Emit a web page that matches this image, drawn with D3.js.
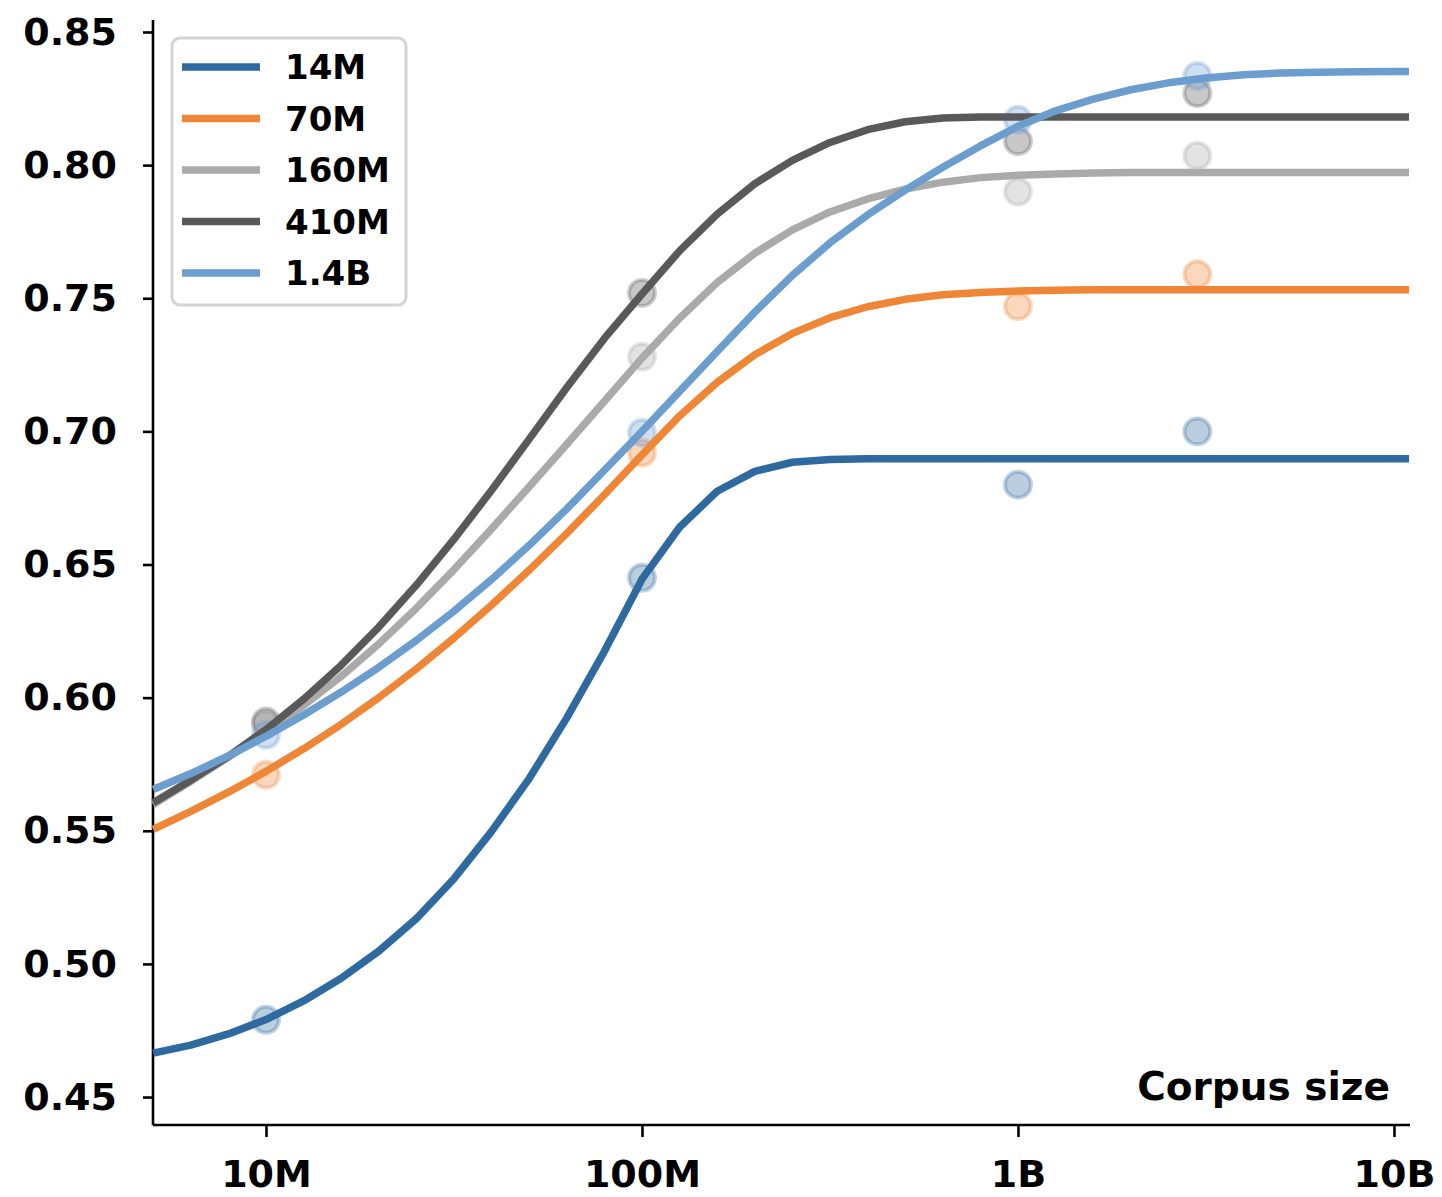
<!DOCTYPE html>
<html>
<head>
<meta charset="utf-8">
<script src="https://cdn.jsdelivr.net/npm/d3@7"></script>
<style>
  body { margin: 0; background: #fff; }
  text { font-family: "DejaVu Sans", sans-serif; font-weight: bold; fill: #000; }
</style>
</head>
<body>
<div id="vis"></div>
<script>
const margin = { top: 20, right: 32, bottom: 72, left: 153 };
const width = 1442 - margin.left - margin.right;
const height = 1197 - margin.top - margin.bottom;

// model names + colours (legend order)
const models = ['14M', '70M', '160M', '410M', '1.4B']
const colors = ['#2e6a9f', '#ef8636', '#aaaaaa', '#595959', '#6b9dcf']

// log10(corpus size) where the fitted curves were read
const curveLogSize = [6.7, 6.8, 6.9, 7.0, 7.1, 7.2, 7.3, 7.4, 7.5, 7.6, 7.7, 7.8, 7.9, 8.0, 8.1, 8.2, 8.3, 8.4,
    8.5, 8.6, 8.7, 8.8, 8.9, 9.0, 9.1, 9.2, 9.3, 9.4, 9.5, 9.6, 9.7, 9.8, 9.9, 10.0, 10.04]

const curve14M = [0.4665, 0.4695, 0.4737, 0.4791, 0.4861, 0.4946, 0.5048, 0.5170, 0.5320, 0.5498, 0.5696, 0.5924,
    0.6174, 0.6445, 0.6640, 0.6775, 0.6850, 0.6884, 0.6894, 0.6897, 0.6897, 0.6897, 0.6897, 0.6897, 0.6897,
    0.6897, 0.6897, 0.6897, 0.6897, 0.6897, 0.6897, 0.6897, 0.6897, 0.6897, 0.6897]
const curve70M = [0.5505, 0.5573, 0.5645, 0.5723, 0.5808, 0.5900, 0.6000, 0.6108, 0.6224, 0.6348, 0.6479, 0.6617,
    0.6762, 0.6912, 0.7058, 0.7184, 0.7288, 0.7368, 0.7427, 0.7468, 0.7496, 0.7513, 0.7522, 0.7527, 0.7530,
    0.7532, 0.7532, 0.7532, 0.7532, 0.7532, 0.7532, 0.7532, 0.7532, 0.7532, 0.7532]
const curve160M = [0.5598, 0.5686, 0.5776, 0.5870, 0.5970, 0.6080, 0.6202, 0.6336, 0.6481, 0.6634, 0.6792, 0.6952,
    0.7113, 0.7275, 0.7425, 0.7559, 0.7669, 0.7757, 0.7824, 0.7873, 0.7910, 0.7936, 0.7953, 0.7962, 0.7967,
    0.7970, 0.7972, 0.7972, 0.7972, 0.7972, 0.7972, 0.7972, 0.7972, 0.7972, 0.7972]
const curve410M = [0.5605, 0.5690, 0.5780, 0.5880, 0.5994, 0.6122, 0.6265, 0.6423, 0.6595, 0.6779, 0.6971, 0.7165,
    0.7349, 0.7516, 0.7678, 0.7816, 0.7930, 0.8018, 0.8085, 0.8133, 0.8163, 0.8177, 0.8181, 0.8181, 0.8181,
    0.8181, 0.8181, 0.8181, 0.8181, 0.8181, 0.8181, 0.8181, 0.8181, 0.8181, 0.8181]
const curve1_4B = [0.5655, 0.5715, 0.5781, 0.5855, 0.5935, 0.6021, 0.6114, 0.6215, 0.6325, 0.6444, 0.6572, 0.6709,
    0.6854, 0.7000, 0.7150, 0.7300, 0.7448, 0.7586, 0.7708, 0.7813, 0.7906, 0.7992, 0.8072, 0.8146, 0.8204,
    0.8248, 0.8283, 0.8309, 0.8327, 0.8339, 0.8346, 0.8349, 0.8351, 0.8352, 0.8352]

// measured points
const pointSizes = [1e7, 1e8, 1e9, 3e9]
const points14M = [0.479, 0.645, 0.680, 0.700]
const points70M = [0.571, 0.692, 0.747, 0.759]
const points160M = [0.590, 0.728, 0.790, 0.8035]
const points410M = [0.591, 0.752, 0.809, 0.827]
const points1_4B = [0.586, 0.6995, 0.817, 0.8335]

const xTicks = [1e7, 1e8, 1e9, 1e10]
const xTickLabels = ['10M', '100M', '1B', '10B']
const yTicks = [0.45, 0.50, 0.55, 0.60, 0.65, 0.70, 0.75, 0.80, 0.85]

const curves = [curve14M, curve70M, curve160M, curve410M, curve1_4B]
const pointSets = [points14M, points70M, points160M, points410M, points1_4B]

const svg = d3.select('#vis')
    .append('svg')
    .attr('width', width + margin.left + margin.right)
    .attr('height', height + margin.top + margin.bottom)
    .append('g')
    .attr('transform', `translate(${margin.left},${margin.top})`);

const xScale = d3.scaleLog()
    .domain([Math.pow(10, 6.6995), Math.pow(10, 10.0426)])
    .range([0, width])
const yScale = d3.scaleLinear()
    .domain([0.4395, 0.8545])
    .range([height, 0])

function drawAxes(){
    const xAxis = d3.axisBottom(xScale)
        .tickValues(xTicks)
        .tickFormat((d, i) => xTickLabels[i])
        .tickSize(12)
        .tickPadding(23)
    const gx = svg.append('g')
        .attr('class', 'axis')
        .attr('transform', `translate(0,${height})`)
        .call(xAxis)

    const yAxis = d3.axisLeft(yScale)
        .tickValues(yTicks)
        .tickFormat(d3.format('.2f'))
        .tickSize(10)
        .tickPadding(26)
    const gy = svg.append('g')
        .attr('class', 'axis')
        .call(yAxis)

    svg.selectAll('.axis path.domain').attr('stroke', '#000').attr('stroke-width', 2.6)
    svg.selectAll('.axis .tick line').attr('stroke', '#000').attr('stroke-width', 2.6)
    svg.selectAll('.axis .tick text')
        .style('font-size', '38px')
        .style('font-family', '"DejaVu Sans", sans-serif')
        .style('font-weight', 'bold')
        .attr('fill', '#000')
    // plain spines, no outer caps
    gx.select('path.domain').attr('d', `M0,0H${width}`)
    gy.select('path.domain').attr('d', `M0,0V${height}`)

    // axis label sits inside the plot, bottom right
    svg.append('text')
        .attr('x', 1390 - margin.left)
        .attr('y', 1100 - margin.top)
        .attr('text-anchor', 'end')
        .style('font-size', '39px')
        .text('Corpus size')
}

function drawPoints(){
    models.forEach((m, k) => {
        svg.append('g')
            .selectAll('circle')
            .data(pointSets[k])
            .join('circle')
            .attr('cx', (d, i) => xScale(pointSizes[i]))
            .attr('cy', d => yScale(d))
            .attr('r', 13)
            .attr('fill', colors[k])
            .attr('fill-opacity', 0.33)
            .attr('stroke', colors[k])
            .attr('stroke-opacity', 0.3)
            .attr('stroke-width', 4)
    })
}

function drawCurves(){
    const line = d3.line()
        .x((d, i) => xScale(Math.pow(10, curveLogSize[i])))
        .y(d => yScale(d))

    models.forEach((m, k) => {
        svg.append('path')
            .datum(curves[k])
            .attr('d', line)
            .attr('fill', 'none')
            .attr('stroke', colors[k])
            .attr('stroke-width', 7.5)
            .attr('stroke-linejoin', 'round')
    })
}

function addLegend(){
    const lg = svg.append('g')
        .attr('transform', `translate(${172 - margin.left},${38 - margin.top})`)

    lg.append('rect')
        .attr('width', 234)
        .attr('height', 267)
        .attr('rx', 8)
        .attr('fill', '#fff')
        .attr('fill-opacity', 0.85)
        .attr('stroke', '#d4d4d4')
        .attr('stroke-width', 3)

    const row = lg.selectAll('g.row')
        .data(models)
        .join('g')
        .attr('class', 'row')
        .attr('transform', (d, i) => `translate(0,${29 + i * 51.5})`)

    row.append('line')
        .attr('x1', 10)
        .attr('x2', 88)
        .attr('stroke', (d, i) => colors[i])
        .attr('stroke-width', 7.5)

    row.append('text')
        .attr('x', 113)
        .attr('dy', '0.36em')
        .style('font-size', '34px')
        .text(d => d)
}

drawAxes()
drawPoints()
drawCurves()
addLegend()
</script>
</body>
</html>
